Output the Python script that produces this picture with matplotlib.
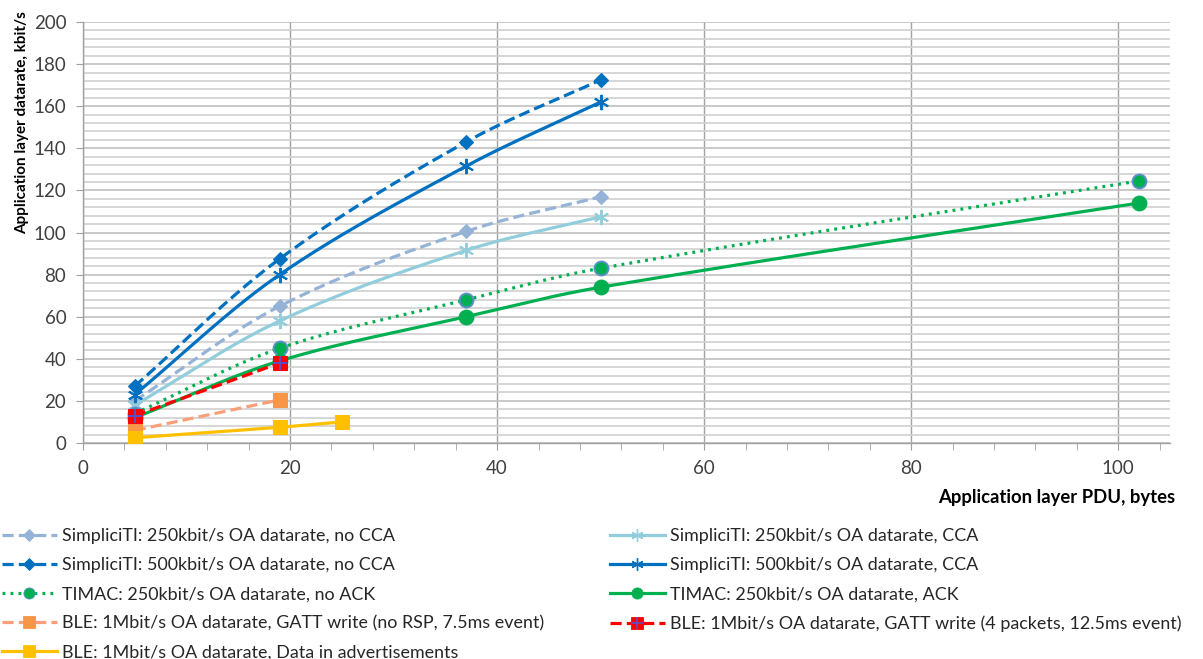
import numpy as np
import matplotlib
matplotlib.use("Agg")
import matplotlib.pyplot as plt
from matplotlib.legend_handler import HandlerTuple
from matplotlib.ticker import MultipleLocator

plt.rcParams['font.family'] = ['Lato', 'DejaVu Sans']

# ---- data ----
x_simp = [5, 19, 37, 50]
simp250_nocca = [20, 65, 100.5, 117]
simp250_cca = [18, 58, 91.5, 107.5]
simp500_nocca = [27, 87.5, 143, 172.5]
simp500_cca = [23, 80, 131.5, 162]

x_timac = [5, 19, 37, 50, 102]
timac_noack = [14, 45, 68, 83, 124.5]
timac_ack = [12, 39, 60, 74, 114]

x_ble2 = [5, 19]
ble_norsp = [6, 20.5]
ble_4pkt = [13, 38]
x_bleadv = [5, 19, 25]
ble_adv = [2.5, 7.5, 10]

labels = [
    "SimpliciTI: 250kbit/s OA datarate, no CCA",
    "SimpliciTI: 250kbit/s OA datarate, CCA",
    "SimpliciTI: 500kbit/s OA datarate, no CCA",
    "SimpliciTI: 500kbit/s OA datarate, CCA",
    "TIMAC: 250kbit/s OA datarate, no ACK",
    "TIMAC: 250kbit/s OA datarate, ACK",
    "BLE: 1Mbit/s OA datarate, GATT write (no RSP, 7.5ms event)",
    "BLE: 1Mbit/s OA datarate, GATT write (4 packets, 12.5ms event)",
    "BLE: 1Mbit/s OA datarate, Data in advertisements",
]

W, H = 1203, 659
fig = plt.figure(figsize=(W / 100, H / 100), dpi=100)
L, R, T, B = 83, 1170, 22, 443
ax = fig.add_axes([L / W, 1 - B / H, (R - L) / W, (B - T) / H])

SX = (R - L) / 105.0
SY = (B - T) / 200.0


def smooth(xs, ys, n=60):
    P = np.column_stack([np.asarray(xs, float) * SX, np.asarray(ys, float) * SY])
    if len(P) < 3:
        return np.asarray(xs, float), np.asarray(ys, float)
    # tangent directions (normalised), Bezier handles scaled to chord length
    D = []
    for i in range(len(P)):
        a = P[i - 1] if i > 0 else P[i]
        b = P[i + 1] if i + 1 < len(P) else P[i]
        d = b - a
        D.append(d / np.linalg.norm(d))
    out = []
    for i in range(len(P) - 1):
        p1, p2 = P[i], P[i + 1]
        ch = np.linalg.norm(p2 - p1) / 3.0
        c1 = p1 + D[i] * ch
        c2 = p2 - D[i + 1] * ch
        t = np.linspace(0, 1, n)[:, None]
        seg = (1 - t) ** 3 * p1 + 3 * (1 - t) ** 2 * t * c1 + 3 * (1 - t) * t ** 2 * c2 + t ** 3 * p2
        out.append(seg if i == 0 else seg[1:])
    out = np.vstack(out)
    return out[:, 0] / SX, out[:, 1] / SY


ast = (6, 2, 0)
LW = 2.3
dash = (0, (3.5, 1.6))
dot = (0, (0.9, 1.6))

series = [
    # x, y, color, ls, marker, mfc, mec, ms
    (x_simp, simp250_nocca, '#95B3D7', dash, 'D', '#95B3D7', '#95B3D7', 7.5),
    (x_simp, simp250_cca, '#92CDDC', '-', ast, '#92CDDC', '#92CDDC', 11),
    (x_simp, simp500_nocca, '#0070C0', dash, 'D', '#0070C0', '#0070C0', 7.5),
    (x_simp, simp500_cca, '#0070C0', '-', ast, '#0070C0', '#0070C0', 11),
    (x_timac, timac_noack, '#00B050', dot, 'o', '#00B050', '#5B8FC9', 10),
    (x_timac, timac_ack, '#00B050', '-', 'o', '#00B050', '#00B050', 10),
    (x_ble2, ble_norsp, '#F9A07A', dash, 's', '#F79646', '#F79646', 10),
    (x_ble2, ble_4pkt, '#FF0000', dash, 's', '#FF0000', '#FF0000', 10),
    (x_bleadv, ble_adv, '#FFC000', '-', 's', '#FFC000', '#FFC000', 10),
]

handles = []
for i, (xs, ys, c, ls, mk, mfc, mec, ms) in enumerate(series):
    sx, sy = smooth(xs, ys)
    ax.plot(sx, sy, color=c, lw=LW, ls=ls, zorder=3 + i * 0.1, solid_capstyle='butt')
    mew = 1.4 if mk in (ast, 'o') else 0.8
    ax.plot(xs, ys, ls='none', marker=mk, ms=ms, mfc=mfc, mec=mec, mew=mew, zorder=3.05 + i * 0.1)
    h = plt.Line2D([], [], color=c, lw=LW, ls=ls, marker=mk, ms=ms * 0.8, mfc=mfc, mec=mec,
                   mew=1.0 if mk == ast else 0.6)
    if i == 7:
        ax.plot(xs, ys, ls='none', marker='+', ms=10, mec='#5B4FC8', mew=1.4, zorder=3.08 + i * 0.1)
        hp = plt.Line2D([], [], ls='none', marker='+', ms=8, mec='#5B4FC8', mew=1.2)
        h = (h, hp)
    handles.append(h)

ax.set_xlim(0, 105)
ax.set_ylim(0, 200)
ax.xaxis.set_major_locator(MultipleLocator(20))
ax.xaxis.set_minor_locator(MultipleLocator(4))
ax.yaxis.set_major_locator(MultipleLocator(20))
ax.yaxis.set_minor_locator(MultipleLocator(4))

ax.grid(True, which='minor', axis='y', color='#D0D0D0', lw=1.2, zorder=0)
ax.grid(True, which='major', axis='y', color='#C0C0C0', lw=1.2, zorder=0)
ax.grid(True, which='major', axis='x', color='#A0A0A0', lw=1.0, zorder=0)
ax.set_axisbelow(True)

for s in ['top', 'right']:
    ax.spines[s].set_visible(False)
for s in ['left', 'bottom']:
    ax.spines[s].set_color('#A0A0A0')
    ax.spines[s].set_linewidth(1.0)

ax.tick_params(axis='both', which='both', direction='out', color='#A0A0A0', labelsize=13.5,
               labelcolor='#404040')
ax.tick_params(axis='x', which='major', length=5, pad=7)
ax.tick_params(axis='x', which='minor', length=5)
ax.tick_params(axis='y', which='major', length=5, pad=7)
ax.tick_params(axis='y', which='minor', length=0)

fig.text(1175 / W, 1 - 497 / H, "Application layer PDU, bytes", ha='right', va='center',
         fontsize=13.3, fontweight='bold', color='black')
fig.text(22 / W, 1 - 123 / H, "Application layer datarate, kbit/s", ha='center', va='center',
         rotation=90, fontsize=11, fontweight='bold', color='black')

left_idx = [0, 2, 4, 6, 8]
right_idx = [1, 3, 5, 7]
common = dict(frameon=False, fontsize=12.9, handlelength=3.05, handletextpad=0.3,
              labelspacing=0.73, borderaxespad=0, borderpad=0,
              handler_map={tuple: HandlerTuple(ndivide=1)})
leg1 = fig.legend([handles[i] for i in left_idx], [labels[i] for i in left_idx],
                  loc='upper left', bbox_to_anchor=(2 / W, 1 - 528 / H), **common)
leg2 = fig.legend([handles[i] for i in right_idx], [labels[i] for i in right_idx],
                  loc='upper left', bbox_to_anchor=(610 / W, 1 - 528 / H), **common)
for lg in (leg1, leg2):
    for t in lg.get_texts():
        t.set_color('#262626')

fig.savefig("out.png", dpi=100)
